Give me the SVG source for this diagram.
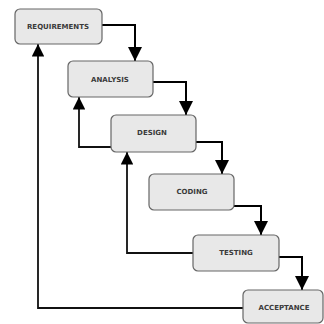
<svg xmlns="http://www.w3.org/2000/svg" width="324" height="324" viewBox="0 0 324 324">
<defs>
<marker id="ah" viewBox="0 0 10 10" refX="10" refY="5" markerWidth="7" markerHeight="7" markerUnits="strokeWidth" orient="auto">
<path d="M0,0 L10,5 L0,10 Z" fill="#000"/>
</marker>
</defs>
<style>
.box{fill:#e8e8e8;stroke:#666;stroke-width:1.2}
.lbl{font-family:"DejaVu Sans",sans-serif;font-size:7px;font-weight:bold;fill:#3a3a3a;text-anchor:middle;dominant-baseline:central}
.c{fill:none;stroke:#000;stroke-width:2;marker-end:url(#ah)}
.c2{fill:none;stroke:#111;stroke-width:1.8;marker-end:url(#ah)}
</style>
<rect width="324" height="324" fill="#fff"/>
<g id="connectors">
<path class="c" d="M102,25 H135 V61"/>
<path class="c" d="M153,82 H186 V115"/>
<path class="c" d="M196,142 H222 V174"/>
<path class="c" d="M234,206 H261 V235"/>
<path class="c" d="M279,257 H302 V290"/>
<path class="c2" d="M112,147 H79 V97"/>
<path class="c2" d="M193,253 H127 V152"/>
<path class="c2" d="M243,308 H38 V44"/>
</g>
<g id="requirements"><rect class="box" x="15" y="9" width="87" height="35" rx="5"/><text class="lbl" x="58" y="27">REQUIREMENTS</text></g>
<g id="analysis"><rect class="box" x="68" y="61" width="85" height="36" rx="5"/><text class="lbl" x="110" y="80">ANALYSIS</text></g>
<g id="design"><rect class="box" x="111" y="115" width="85" height="37" rx="5"/><text class="lbl" x="152" y="133">DESIGN</text></g>
<g id="coding"><rect class="box" x="149" y="174" width="85" height="36" rx="5"/><text class="lbl" x="192" y="192">CODING</text></g>
<g id="testing"><rect class="box" x="193" y="235" width="86" height="36" rx="5"/><text class="lbl" x="236" y="253">TESTING</text></g>
<g id="acceptance"><rect class="box" x="243" y="290" width="80" height="33" rx="5"/><text class="lbl" x="284" y="308">ACCEPTANCE</text></g>
</svg>
